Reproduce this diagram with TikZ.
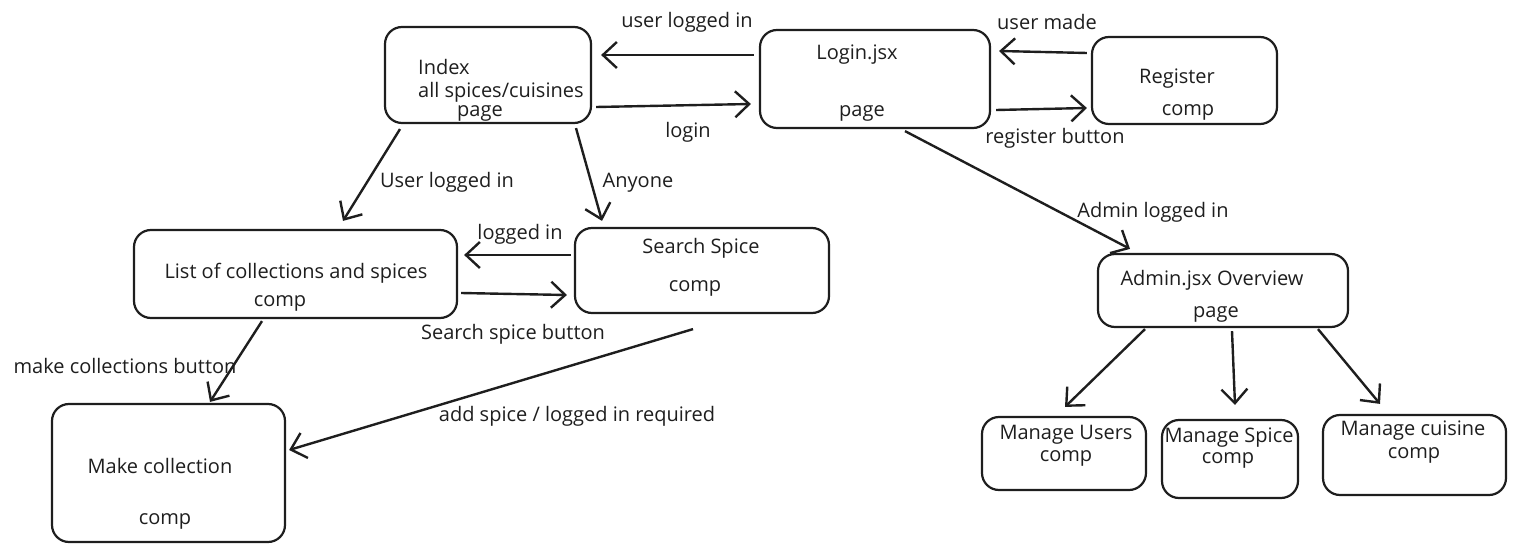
\documentclass[tikz,border=0pt]{standalone}
\usepackage{fontspec}
\setmainfont{Open Sans}
\usetikzlibrary{arrows.meta}
\definecolor{ink}{HTML}{1E1E1E}
\tikzset{
  box/.style={draw=ink, line width=2.2pt, rounded corners=17pt, inner sep=0pt},
  txt/.style={inner sep=0pt, text=ink, font=\fontsize{20}{24}\selectfont},
  conn/.style={draw=ink, line width=2.4pt, -{Straight Barb[length=14pt,width=26pt]}},
}
\begin{document}
\begin{tikzpicture}[x=1pt,y=-1pt]
\useasboundingbox (0,0) rectangle (1517,553);
% boxes
\node[box, minimum width=206pt, minimum height=96pt] (index) at (488,75) {};
\node[box, minimum width=230pt, minimum height=98pt] (login) at (875,79) {};
\node[box, minimum width=185pt, minimum height=87pt] (register) at (1184.5,80.5) {};
\node[box, minimum width=323pt, minimum height=88pt] (list) at (295.5,274) {};
\node[box, minimum width=254pt, minimum height=85pt] (search) at (702,270.5) {};
\node[box, minimum width=233pt, minimum height=138pt] (make) at (168.5,473) {};
\node[box, minimum width=250pt, minimum height=73pt] (admin) at (1223,290.5) {};
\node[box, minimum width=164pt, minimum height=73pt] (musers) at (1064,453.5) {};
\node[box, minimum width=136pt, minimum height=78pt] (mspice) at (1230,459) {};
\node[box, minimum width=183pt, minimum height=80pt] (mcuisine) at (1414.5,455) {};
% box texts
\node[txt, anchor=west] (t1) at (418,67) {Index};
\node[txt, anchor=west] (t2) at (418,92) {all spices/cuisines};
\node[txt] (t3) at (480,113) {page};
\node[txt] (t4) at (857,55) {Login.jsx};
\node[txt] (t5) at (862,113) {page};
\node[txt] (t6) at (1177,79) {Register};
\node[txt] (t7) at (1188,112) {comp};
\node[txt] (t8) at (296,273) {List of collections and spices};
\node[txt] (t9) at (280,303) {comp};
\node[txt] (t10) at (701,248) {Search Spice};
\node[txt] (t11) at (695,288) {comp};
\node[txt] (t12) at (160,466) {Make collection};
\node[txt] (t13) at (165,521) {comp};
\node[txt] (t14) at (1212,280) {Admin.jsx Overview};
\node[txt] (t15) at (1216,314) {page};
\node[txt] (t16) at (1066,435) {Manage Users};
\node[txt] (t17) at (1066,458) {comp};
\node[txt] (t18) at (1229,438) {Manage Spice};
\node[txt] (t19) at (1228,460) {comp};
\node[txt] (t20) at (1413,431) {Manage cuisine};
\node[txt] (t21) at (1414,455) {comp};
% connectors
\draw[conn] ([xshift=-5,yshift=24]login.west) -- ([xshift=9,yshift=20]index.east);
\draw[conn] ([xshift=4,yshift=-32]index.east) -- ([xshift=-8,yshift=-25]login.west);
\draw[conn] ([xshift=-4,yshift=27.5]register.west) -- ([xshift=8,yshift=28]login.east);
\draw[conn] ([xshift=5,yshift=-31]login.east) -- ([xshift=-4,yshift=-27.5]register.west);
\draw[conn] ([xshift=30,yshift=-2]login.south) -- ([xshift=-93,yshift=4]admin.north);
\draw[conn] ([xshift=-88,yshift=-5]index.south) -- ([xshift=47.5,yshift=8]list.north);
\draw[conn] ([xshift=88,yshift=-4]index.south) -- ([xshift=-100,yshift=6]search.north);
\draw[conn] ([xshift=-3,yshift=15.5]search.west) -- ([xshift=6,yshift=19]list.east);
\draw[conn] ([xshift=3,yshift=-19]list.east) -- ([xshift=-7,yshift=-24.5]search.west);
\draw[conn] ([xshift=-33.5,yshift=-2]list.south) -- ([xshift=41.5,yshift=1]make.north);
\draw[conn] ([xshift=-9,yshift=-15]search.south) -- ([xshift=3,yshift=23]make.east);
\draw[conn] ([xshift=-78,yshift=-1]admin.south) -- ([xshift=1,yshift=9]musers.north);
\draw[conn] ([xshift=9,yshift=-3]admin.south) -- ([xshift=5,yshift=14]mspice.north);
\draw[conn] ([xshift=95,yshift=-1]admin.south) -- ([xshift=-34.5,yshift=10]mcuisine.north);
% connector labels
\node[txt] (l1) at (687,22) {user logged in};
\node[txt] (l2) at (688,132) {login};
\node[txt] (l3) at (1047,22) {user made};
\node[txt] (l4) at (1055,138) {register button};
\node[txt] (l5) at (1153,212) {Admin logged in};
\node[txt] (l6) at (447,182) {User logged in};
\node[txt] (l7) at (638,183) {Anyone};
\node[txt] (l8) at (520,234) {logged in};
\node[txt] (l9) at (513,334) {Search spice button};
\node[txt] (l10) at (125,366) {make collections button};
\node[txt] (l11) at (577,416) {add spice / logged in required};
\end{tikzpicture}
\end{document}
